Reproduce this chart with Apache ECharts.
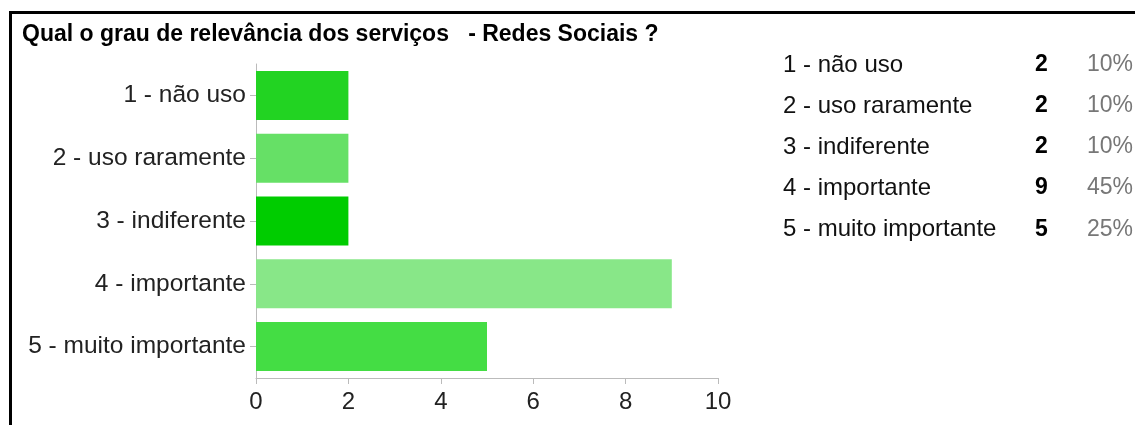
<!DOCTYPE html>
<html>
<head>
<meta charset="utf-8">
<script src="https://cdn.jsdelivr.net/npm/echarts@6/dist/echarts.min.js"></script>
<style>
  html, body { margin: 0; padding: 0; background: #fff; }
  #chart { width: 1135px; height: 425px; }
</style>
</head>
<body>
<div id="chart"></div>
<script>
// Survey answers: relevance of social networks
const titleText = 'Qual o grau de relevância dos serviços   - Redes Sociais ?';
const categories = ['1 - não uso', '2 - uso raramente', '3 - indiferente', '4 - importante', '5 - muito importante'];
const counts = [2, 2, 2, 9, 5];
const xTickMin = 0;
const xTickMax = 10;
const xTickStep = 2;

// One shade of green per answer
const palette = ['#22d322', '#66e066', '#00cc00', '#88e788', '#44dd44'];

const total = counts.reduce((a, b) => a + b, 0);
const FONT = 'Liberation Sans, Arial, sans-serif';

// Summary table on the right: answer, count, share
const tableItems = [];
const rowTop = 65, rowStep = 41.2;
categories.forEach((c, i) => {
  const y = rowTop + i * rowStep;
  tableItems.push({
    type: 'text', left: 783, top: y - 12,
    style: { text: c, fill: '#111', font: '24px ' + FONT }
  });
  tableItems.push({
    type: 'text', left: 1035, top: y - 12,
    style: { text: String(counts[i]), fill: '#000', font: 'bold 23px ' + FONT }
  });
  tableItems.push({
    type: 'text', right: 2, top: y - 12,
    style: { text: Math.round(counts[i] / total * 100) + '%', fill: '#777', font: '23px ' + FONT }
  });
});

const chart = echarts.init(document.getElementById('chart'));
chart.setOption({
  animation: false,
  title: {
    text: titleText,
    left: 17, top: 18,
    textStyle: { fontFamily: FONT, fontSize: 23, fontWeight: 'bold', color: '#000' }
  },
  grid: { left: 256, right: 417, top: 64, bottom: 47, containLabel: false },
  xAxis: {
    type: 'value',
    min: xTickMin, max: xTickMax, interval: xTickStep,
    splitLine: { show: false },
    axisLine: { show: true, lineStyle: { color: '#bbb', width: 1 } },
    axisTick: { show: true, length: 6, lineStyle: { color: '#bbb' } },
    axisLabel: { color: '#222', fontFamily: FONT, fontSize: 24, margin: 12 }
  },
  yAxis: {
    type: 'category',
    inverse: true,
    data: categories,
    axisLine: { show: true, lineStyle: { color: '#bbb', width: 1 } },
    axisTick: { show: true, alignWithLabel: true, length: 6, lineStyle: { color: '#bbb' } },
    axisLabel: { color: '#222', fontFamily: FONT, fontSize: 24.5, margin: 10 }
  },
  series: [{
    type: 'bar',
    barCategoryGap: '22%',
    data: counts.map((v, i) => ({ value: v, itemStyle: { color: palette[i] } })),
    itemStyle: { borderWidth: 0 }
  }],
  graphic: [
    {
      type: 'rect', left: 8, top: 10, silent: true,
      shape: { x: 0, y: 0, width: 1200, height: 500 },
      style: { fill: 'none', stroke: '#000', lineWidth: 3 }
    }
  ].concat(tableItems)
});
</script>
</body>
</html>
